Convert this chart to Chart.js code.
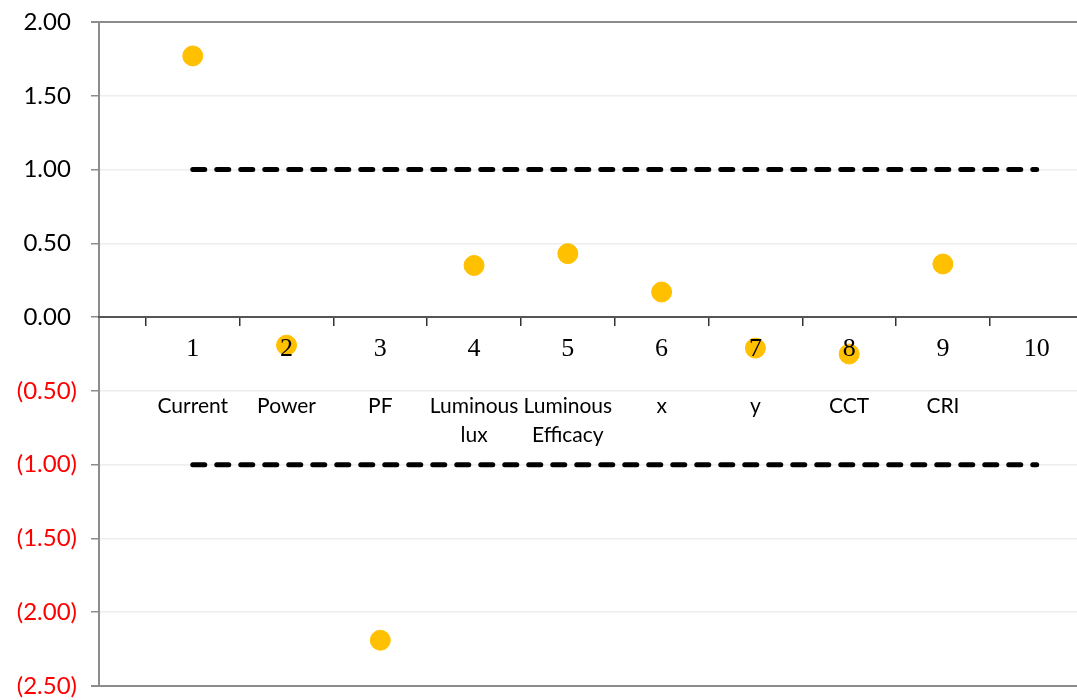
<!DOCTYPE html>
<html>
<head>
<meta charset="utf-8">
<script src="https://cdn.jsdelivr.net/npm/chart.js@4.4.1/dist/chart.umd.min.js"></script>
<style>
  body { margin: 0; background: #fff; }
  #wrap { width: 1077px; height: 700px; }
</style>
</head>
<body>
<div id="wrap"><canvas id="grafico"></canvas></div>
<script>
// dados
var indices = [1, 2, 3, 4, 5, 6, 7, 8, 9];
var valores = [1.77, -0.19, -2.19, 0.35, 0.43, 0.17, -0.21, -0.25, 0.36];
var nomes = ['Current', 'Power', 'PF', ['Luminous', 'lux'], ['Luminous', 'Efficacy'], 'x', 'y', 'CCT', 'CRI'];
var numerosEixo = [1, 2, 3, 4, 5, 6, 7, 8, 9, 10];
var marcasEixo = [0.5, 1.5, 2.5, 3.5, 4.5, 5.5, 6.5, 7.5, 8.5, 9.5];
var limiteX = [1, 10];
var limiteSup = [1, 1];
var limiteInf = [-1, -1];

var pontos = indices.map((x, i) => ({ x: x, y: valores[i] }));
var linhaSup = limiteX.map((x, i) => ({ x: x, y: limiteSup[i] }));
var linhaInf = limiteX.map((x, i) => ({ x: x, y: limiteInf[i] }));

function formatar(v) {
    if (v < 0) return '(' + (-v).toFixed(2) + ')';
    return v.toFixed(2) + ' ';
}

var ctx = document.getElementById('grafico');
var grafico = new Chart(ctx, {
    type: 'scatter',
    data: {
        datasets: [
            {
                label: 'valores',
                data: pontos,
                backgroundColor: '#FFC000',
                borderColor: '#FFC000',
                pointRadius: 10,
                pointHoverRadius: 10,
                order: 1
            },
            {
                type: 'line',
                label: 'sup',
                data: linhaSup,
                borderColor: '#000',
                borderWidth: 5,
                borderDash: [12, 12],
                borderCapStyle: 'round',
                pointRadius: 0,
                order: 2
            },
            {
                type: 'line',
                label: 'inf',
                data: linhaInf,
                borderColor: '#000',
                borderWidth: 5,
                borderDash: [12, 12],
                borderCapStyle: 'round',
                pointRadius: 0,
                order: 2
            }
        ]
    },
    options: {
        responsive: true,
        maintainAspectRatio: false,
        animation: false,
        layout: { padding: 0, autoPadding: false },
        plugins: {
            legend: { display: false },
            tooltip: { enabled: false }
        },
        scales: {
            y: {
                min: -2.5,
                max: 2,
                ticks: {
                    stepSize: 0.5,
                    padding: 14,
                    font: { family: 'Lato', size: 24 },
                    color: (c) => c.tick.value < 0 ? '#FF0000' : '#000000',
                    callback: (v) => formatar(v)
                },
                grid: {
                    color: (c) => (c.tick.value === 2 || c.tick.value === -2.5) ? '#8c8c8c' : '#eeeeee',
                    lineWidth: (c) => (c.tick.value === 2 || c.tick.value === -2.5) ? 2 : 1.5,
                    tickColor: '#8c8c8c',
                    tickLength: 8
                },
                border: { color: '#8c8c8c', width: 2 },
                afterFit: (s) => {
                    s.width = 99;
                    s.paddingTop = 22;
                    s.paddingBottom = 14;
                }
            },
            x: {
                type: 'linear',
                position: { y: 0 },
                min: 0,
                max: 10.43,
                afterBuildTicks: (s) => {
                    s.ticks = marcasEixo.concat(numerosEixo).sort((a, b) => a - b).map(v => ({ value: v }));
                },
                afterFit: (s) => { s.paddingRight = 0; s.paddingLeft = 0; },
                ticks: {
                    z: 1,
                    autoSkip: false,
                    maxRotation: 0,
                    padding: 8,
                    font: { family: 'Liberation Serif', size: 26 },
                    color: '#000',
                    callback: (v) => Number.isInteger(v) ? String(v) : ''
                },
                grid: {
                    drawOnChartArea: false,
                    tickLength: 8,
                    tickColor: (c) => Number.isInteger(c.tick.value) ? 'rgba(0,0,0,0)' : '#333333',
                    lineWidth: 1.5
                },
                border: { color: '#555555', width: 2 }
            },
            xNomes: {
                type: 'linear',
                axis: 'x',
                position: { y: 0 },
                min: 0,
                max: 10.43,
                afterBuildTicks: (s) => {
                    s.ticks = indices.map(v => ({ value: v }));
                },
                afterFit: (s) => { s.paddingRight = 0; s.paddingLeft = 0; },
                ticks: {
                    autoSkip: false,
                    maxRotation: 0,
                    padding: 6,
                    font: { family: 'Lato', size: 21, lineHeight: 1.4 },
                    color: '#000',
                    callback: (v) => nomes[indices.indexOf(v)]
                },
                grid: {
                    display: true,
                    drawOnChartArea: false,
                    drawTicks: true,
                    tickLength: 68,
                    tickColor: 'rgba(0,0,0,0)'
                },
                border: { display: false }
            }
        }
    }
});
</script>
</body>
</html>
